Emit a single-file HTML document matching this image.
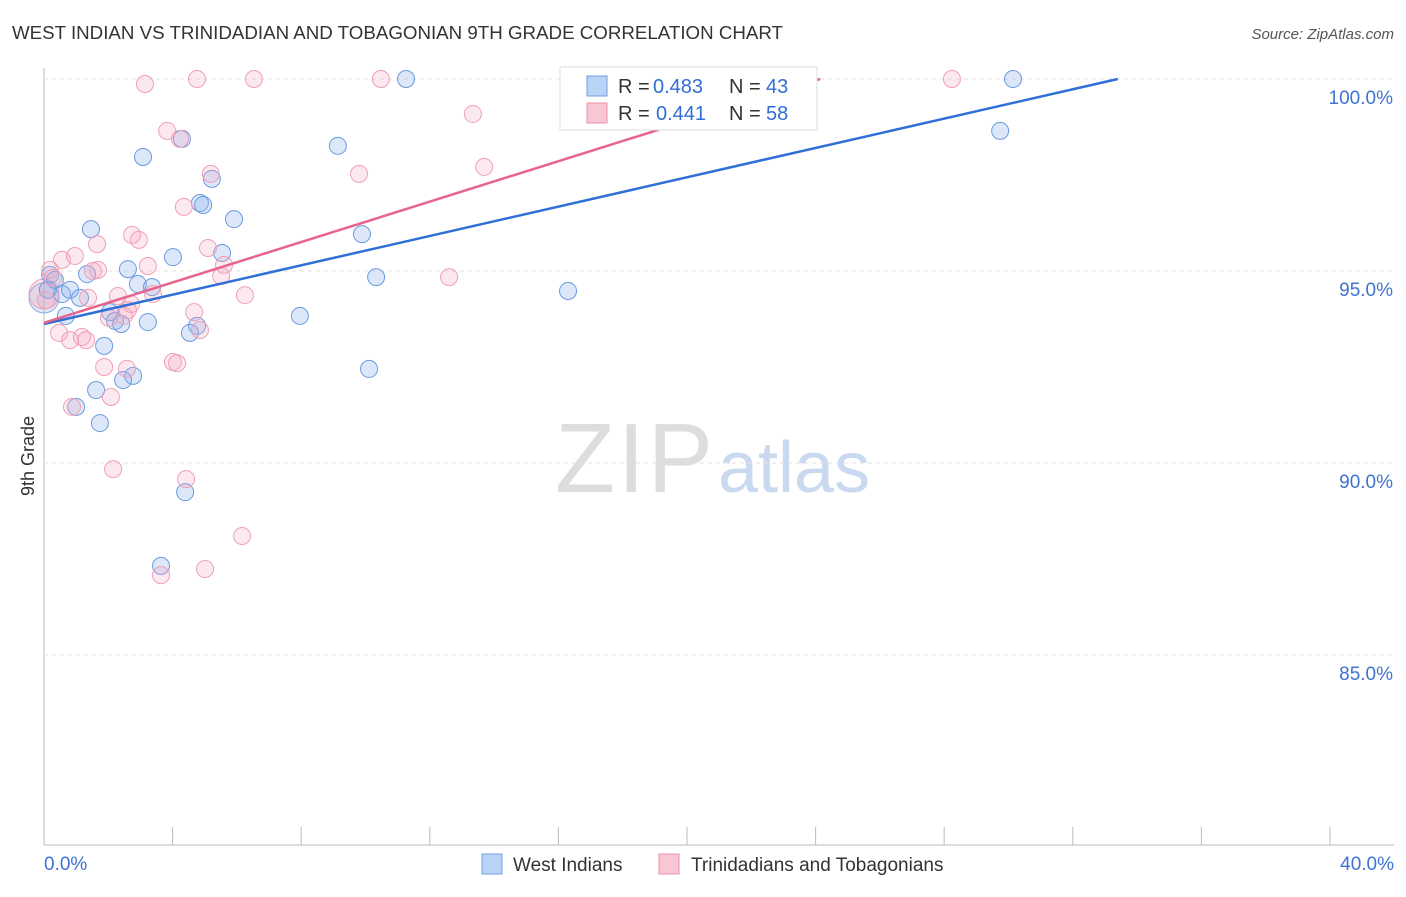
<!DOCTYPE html>
<html><head><meta charset="utf-8"><style>
body{margin:0;background:#fff;font-family:"Liberation Sans",sans-serif;}
svg text{font-family:"Liberation Sans",sans-serif;}
</style></head><body>
<svg id="c" width="1406" height="892">
<text x="12" y="39" font-size="18" fill="#333" textLength="771" lengthAdjust="spacingAndGlyphs">WEST INDIAN VS TRINIDADIAN AND TOBAGONIAN 9TH GRADE CORRELATION CHART</text>
<text x="1394" y="39" font-size="15" fill="#555" text-anchor="end" font-style="italic">Source: ZipAtlas.com</text>
<text x="34" y="456" font-size="18" fill="#333" transform="rotate(-90 34 456)" text-anchor="middle">9th Grade</text>
<text x="555" y="492" font-size="98" fill="#ddd" font-family="Liberation Serif" textLength="158">ZIP</text>
<text x="718" y="492" font-size="72" fill="#c9d9f0">atlas</text>
<g id="grid"></g><g id="pts"></g><g id="trend"></g>
<g>
<rect x="560" y="67" width="257" height="63" fill="#fff" stroke="#ddd"/>
<rect x="587" y="76" width="20" height="20" fill="#b8d3f5" stroke="#6f9fe0"/>
<text x="618" y="93" font-size="20" fill="#333">R =</text>
<text x="653" y="93" font-size="20" fill="#2f6fd6">0.483</text>
<text x="729" y="93" font-size="20" fill="#333">N =</text>
<text x="766" y="93" font-size="20" fill="#2f6fd6">43</text>
<rect x="587" y="103" width="20" height="20" fill="#f9c6d4" stroke="#ec8fab"/>
<text x="618" y="120" font-size="20" fill="#333">R =</text>
<text x="656" y="120" font-size="20" fill="#2f6fd6">0.441</text>
<text x="729" y="120" font-size="20" fill="#333">N =</text>
<text x="766" y="120" font-size="20" fill="#2f6fd6">58</text>
</g>
<g>
<rect x="482" y="854" width="20" height="20" fill="#b8d3f5" stroke="#6f9fe0"/>
<text x="513" y="871" font-size="19" fill="#333">West Indians</text>
<rect x="659" y="854" width="20" height="20" fill="#f9c6d4" stroke="#ec8fab"/>
<text x="691" y="871" font-size="19" fill="#333">Trinidadians and Tobagonians</text>
</g>
</svg>
<script>
const yTicks=[100,95,90,85];
const xTickLabels=["0.0%","40.0%"];
const blueX=[11.26,30.14,29.74,9.14,3.08,4.29,5.22,4.85,4.95,5.91,1.46,9.89,5.54,4.01,2.61,10.33,1.34,0.19,0.34,0.12,0.56,0.81,1.12,2.92,3.36,16.30,7.96,0.68,2.05,2.21,2.40,3.23,4.76,4.54,1.87,10.11,2.77,2.46,1.62,1.00,1.74,4.39,3.64];
const blueY=[100,100,98.65,98.26,97.97,98.44,97.40,96.77,96.72,96.35,96.09,95.96,95.47,95.36,95.05,94.84,94.92,94.90,94.77,94.51,94.40,94.51,94.30,94.66,94.58,94.48,93.83,93.83,93.93,93.70,93.62,93.67,93.57,93.39,93.05,92.45,92.27,92.16,91.90,91.46,91.04,89.24,87.32];
const pinkX=[3.14,4.76,6.53,10.48,28.24,13.34,3.83,4.23,13.69,9.80,5.19,4.35,2.74,2.95,1.65,5.10,0.56,0.96,0.19,0.28,1.52,1.68,3.23,5.60,5.51,12.60,3.39,1.37,2.30,2.71,6.25,2.02,2.49,2.61,4.67,0.47,1.18,0.81,1.31,4.85,4.01,4.14,1.87,2.58,2.08,0.87,2.15,4.42,6.16,5.01,3.64,0.06];
const pinkY=[99.87,100,100,100,100,99.09,98.65,98.44,97.71,97.53,97.53,96.67,95.94,95.81,95.70,95.60,95.29,95.39,95.03,94.82,95.00,95.03,95.13,95.16,94.87,94.84,94.40,94.30,94.35,94.14,94.37,93.78,93.83,93.98,93.93,93.39,93.28,93.20,93.20,93.46,92.63,92.60,92.50,92.45,91.72,91.46,89.84,89.58,88.10,87.24,87.08,94.24];
const bigX=[0,0];
const bigY=[94.3,94.4];
const blueTrendX=[0,33.4];
const blueTrendY=[93.62,100];
const pinkTrendX=[0,24.14];
const pinkTrendY=[93.65,100];
const NS="http://www.w3.org/2000/svg";
function sx(v){return 44+v*32.15;}
function sy(v){return 79+(100-v)*38.4;}
function mk(tag,attrs,parent){const e=document.createElementNS(NS,tag);for(const k in attrs)e.setAttribute(k,attrs[k]);parent.appendChild(e);return e;}
const grid=document.getElementById('grid');
let ax=mk('line',{x1:44,y1:68,x2:44,y2:845,stroke:'#bbb'},grid);


let bx=mk('line',{x1:44,y1:845,x2:1394,y2:845,stroke:'#bbb'},grid);


yTicks.forEach(t=>{
 const l=mk('line',{x1:44,x2:1394,y1:sy(t),y2:sy(t),stroke:'#e2e2e2','stroke-dasharray':'4,4'},grid);
 
 
 const tx=mk('text',{x:1393,y:sy(t)+25,'font-size':19,fill:'#3d73d1','text-anchor':'end'},grid);
 tx.textContent=t.toFixed(1)+'%';
 
 
});
for(let i=0;i<=10;i++){
 const t=mk('line',{x1:sx(i*4),x2:sx(i*4),y1:827,y2:845,stroke:'#bbb'},grid);
 
 
}
xTickLabels.forEach((s,i)=>{
 const tx=mk('text',{x:i?1394:44,y:870,'font-size':19,fill:'#3d73d1','text-anchor':i?'end':'start'},grid);
 tx.textContent=s;
 
 
});
const pts=document.getElementById('pts');
bigX.forEach((x,i)=>{
 const c=mk('circle',{cx:sx(x),cy:sy(bigY[i]),r:15,fill:i?'rgba(240,150,175,0.25)':'rgba(130,170,230,0.25)',stroke:i?'#f0a0b8':'#86aee6','stroke-width':1},pts);
 
 
});
blueX.forEach((x,i)=>{
 const c=mk('circle',{cx:sx(x),cy:sy(blueY[i]),r:8.5,fill:'rgba(140,180,235,0.3)',stroke:'#6b9ae0','stroke-width':1},pts);
 
 
});
pinkX.forEach((x,i)=>{
 const c=mk('circle',{cx:sx(x),cy:sy(pinkY[i]),r:8.5,fill:'rgba(245,165,190,0.25)',stroke:'#f0a0b8','stroke-width':1},pts);
 
 
});
const tr=document.getElementById('trend');
let l1=mk('line',{x1:sx(blueTrendX[0]),y1:sy(blueTrendY[0]),x2:sx(blueTrendX[1]),y2:sy(blueTrendY[1]),stroke:'#2f6fd6','stroke-width':2.5},tr);


let l2=mk('line',{x1:sx(pinkTrendX[0]),y1:sy(pinkTrendY[0]),x2:sx(pinkTrendX[1]),y2:sy(pinkTrendY[1]),stroke:'#e8648f','stroke-width':2.5},tr);


</script>
</body></html>
